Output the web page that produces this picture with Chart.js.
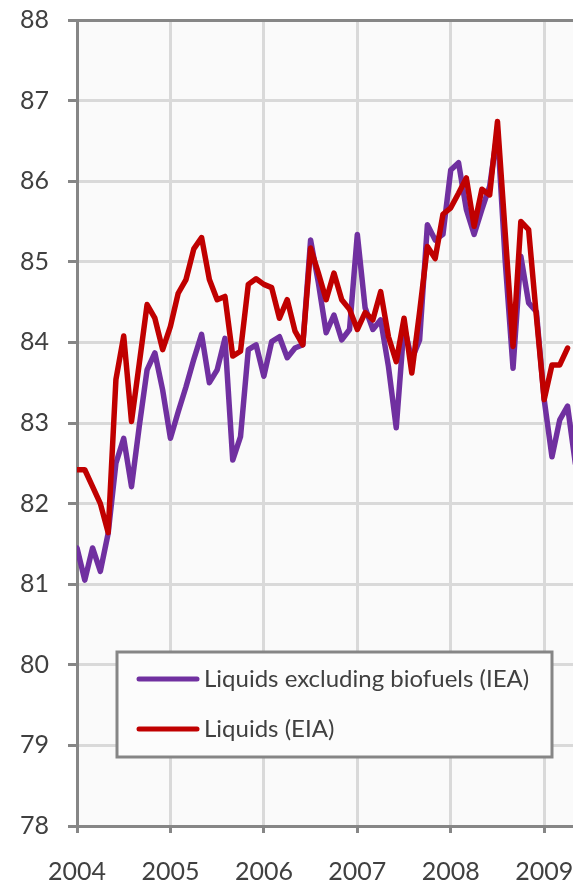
<!DOCTYPE html>
<html>
<head>
<meta charset="utf-8">
<script src="https://cdn.jsdelivr.net/npm/chart.js@4.4.1/dist/chart.umd.min.js"></script>
<style>
  html, body { margin: 0; padding: 0; background: #ffffff; }
  #wrap { width: 573px; height: 883px; overflow: hidden; }
</style>
</head>
<body>
<div id="wrap"><canvas id="c" width="573" height="883"></canvas></div>
<script>
// Tick labels (one per year, each 12 months apart)
const yearTicks = ['2004', '2005', '2006', '2007', '2008', '2009'];

// Monthly values from Jan 2004 (million barrels per day)
const ieaLiquidsExBiofuels = [
  81.45, 81.05, 81.45, 81.16, 81.63, 82.50, 82.81, 82.21, 82.96, 83.66, 83.87, 83.41,
  82.81, 83.14, 83.45, 83.79, 84.10, 83.50, 83.66, 84.05, 82.54, 82.83, 83.91, 83.97,
  83.58, 84.01, 84.07, 83.81, 83.93, 83.97, 85.27, 84.74, 84.12, 84.34, 84.03, 84.16,
  85.34, 84.43, 84.16, 84.28, 83.70, 82.94, 84.20, 83.79, 84.03, 85.46, 85.27, 85.34,
  86.14, 86.23, 85.65, 85.34, 85.65, 85.94, 86.62, 85.00, 83.68, 85.07, 84.49, 84.38,
  83.29, 82.58, 83.04, 83.21, 82.50
];
const eiaLiquids = [
  82.42, 82.42, 82.21, 82.00, 81.64, 83.54, 84.08, 83.02, 83.74, 84.47, 84.30, 83.91,
  84.20, 84.61, 84.78, 85.16, 85.30, 84.78, 84.53, 84.57, 83.83, 83.89, 84.72, 84.79,
  84.72, 84.68, 84.30, 84.53, 84.14, 83.97, 85.17, 84.86, 84.53, 84.86, 84.53, 84.41,
  84.16, 84.37, 84.28, 84.63, 84.07, 83.76, 84.30, 83.62, 84.38, 85.19, 85.04, 85.59,
  85.67, 85.85, 86.04, 85.44, 85.90, 85.83, 86.74, 85.35, 83.95, 85.50, 85.40, 84.32,
  83.29, 83.72, 83.72, 83.93
];
const seriesLabels = ['Liquids excluding biofuels (IEA)', 'Liquids (EIA)'];
const seriesColors = ['#7030a0', '#c00000'];

const FONT = 'Lato';
const AXIS_GRAY = '#868686';
const GRID_GRAY = '#d9d9d9';
const TEXT = '#404040';

const bgPlugin = {
  id: 'bg',
  beforeDraw(chart) {
    const { ctx, chartArea: a } = chart;
    ctx.save();
    ctx.fillStyle = '#ffffff';
    ctx.fillRect(0, 0, chart.width, chart.height);
    ctx.fillStyle = '#fafafa';
    ctx.fillRect(a.left, a.top, a.right - a.left, a.bottom - a.top);
    ctx.restore();
  }
};

const legendPlugin = {
  id: 'boxLegend',
  afterDatasetsDraw(chart) {
    const { ctx } = chart;
    const box = { x: 117, y: 652, w: 435, h: 105 };
    ctx.save();
    ctx.fillStyle = '#fcfcfc';
    ctx.fillRect(box.x, box.y, box.w, box.h);
    ctx.lineWidth = 3;
    ctx.strokeStyle = AXIS_GRAY;
    ctx.strokeRect(box.x, box.y, box.w, box.h);
    const rows = [679, 729];
    chart.data.datasets.forEach((ds, i) => {
      const y = rows[i];
      ctx.beginPath();
      ctx.lineCap = 'round';
      ctx.lineWidth = 5;
      ctx.strokeStyle = ds.borderColor;
      ctx.moveTo(139, y);
      ctx.lineTo(197, y);
      ctx.stroke();
      ctx.fillStyle = TEXT;
      ctx.font = '24px ' + FONT;
      ctx.textBaseline = 'middle';
      ctx.textAlign = 'left';
      ctx.fillText(ds.label, 204, y);
    });
    ctx.restore();
  }
};

new Chart(document.getElementById('c'), {
  type: 'line',
  data: {
    datasets: [
      {
        label: seriesLabels[0],
        data: ieaLiquidsExBiofuels.map((v, i) => ({ x: i, y: v })),
        borderColor: seriesColors[0],
        borderWidth: 5.5,
        pointRadius: 0,
        tension: 0,
        borderJoinStyle: 'round',
        borderCapStyle: 'round',
        order: 1
      },
      {
        label: seriesLabels[1],
        data: eiaLiquids.map((v, i) => ({ x: i, y: v })),
        borderColor: seriesColors[1],
        borderWidth: 5.5,
        pointRadius: 0,
        tension: 0,
        borderJoinStyle: 'round',
        borderCapStyle: 'round',
        order: 0
      }
    ]
  },
  options: {
    responsive: false,
    animation: false,
    devicePixelRatio: 1,
    layout: { padding: { top: 20, right: 0, bottom: 0, left: 0 } },
    plugins: { legend: { display: false }, tooltip: { enabled: false } },
    scales: {
      x: {
        type: 'linear',
        min: 0,
        max: 63.7,
        afterBuildTicks(scale) {
          scale.ticks = yearTicks.map((_, i) => ({ value: i * 12 }));
        },
        afterFit(scale) {
          scale.height = 57;
          scale.paddingLeft = 0;
          scale.paddingRight = 0;
        },
        ticks: {
          autoSkip: false,
          maxRotation: 0,
          minRotation: 0,
          padding: 24,
          color: TEXT,
          font: { family: FONT, size: 25 },
          callback: (v) => yearTicks[Math.round(v / 12)]
        },
        grid: {
          color: GRID_GRAY,
          lineWidth: 3,
          tickLength: 7,
          tickColor: AXIS_GRAY,
          tickWidth: 3
        },
        border: { color: AXIS_GRAY, width: 3 }
      },
      y: {
        min: 78,
        max: 88,
        afterFit(scale) {
          scale.width = 77;
          scale.paddingTop = 0;
          scale.paddingBottom = 0;
        },
        ticks: {
          stepSize: 1,
          padding: 19,
          color: TEXT,
          font: { family: FONT, size: 25 }
        },
        grid: {
          color: (c) => (c.tick && c.tick.value === 88 ? AXIS_GRAY : GRID_GRAY),
          lineWidth: 3,
          tickLength: 9,
          tickColor: AXIS_GRAY,
          tickWidth: 3
        },
        border: { color: AXIS_GRAY, width: 3 }
      }
    }
  },
  plugins: [bgPlugin, legendPlugin]
});
</script>
</body>
</html>
